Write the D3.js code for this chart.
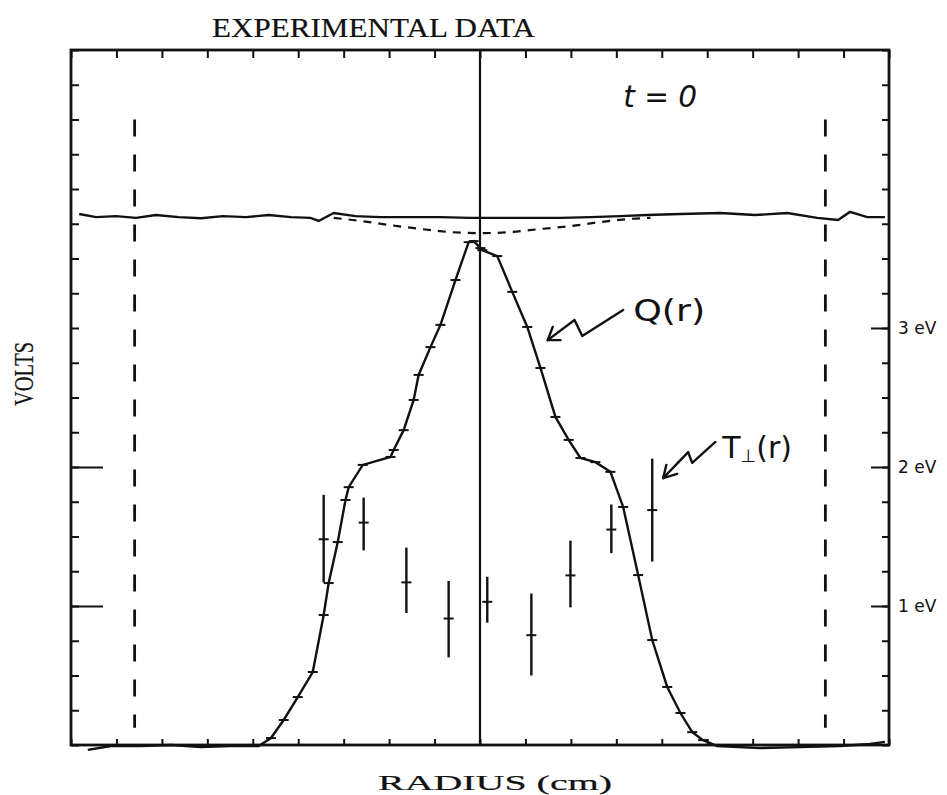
<!DOCTYPE html>
<html>
<head>
<meta charset="utf-8">
<title>Experimental Data</title>
<script src="https://cdn.jsdelivr.net/npm/d3@7"></script>
<style>
  body { margin: 0; background: white; }
  .label { font-family: 'Liberation Serif', serif; fill: #111; stroke: #111; stroke-width: 0.2; }
  .hand { font-family: 'DejaVu Sans', sans-serif; fill: #111; }
  .ticks path { display: none; }
  .ticks line { stroke: #111; stroke-width: 2; }
  .ticks text { display: none; }
  .ev_axis path { display: none; }
  .ev_axis line { stroke: #111; stroke-width: 2; }
  .ev_axis text { font-family: 'DejaVu Sans', sans-serif; font-size: 17px; fill: #111; }
</style>
</head>
<body>
<div id="chart"></div>
<script>
// radius in tick divisions (-9..9), volts in tick divisions (0..20)
var q_radius = [-8.63, -8.12, -7.46, -6.80, -6.14, -5.48, -4.87, -4.60, -4.32, -4.01, -3.68, -3.44, -3.33,
                -3.13, -2.96, -2.89, -2.58, -1.97, -1.90, -1.68, -1.46, -1.35, -1.09, -0.87, -0.54, -0.25,
                -0.14, 0.01, 0.05, 0.38, 0.71, 1.04, 1.33, 1.66, 1.95, 2.21, 2.54, 2.87, 3.15, 3.48, 3.79,
                4.12, 4.41, 4.67, 4.91, 5.22, 6.16, 7.04, 7.92, 8.58, 8.91];
var q_volts = [-0.14, -0.03, -0.03, 0.00, -0.06, -0.03, -0.03, 0.20, 0.72, 1.38, 2.10, 3.74, 4.66,
               5.84, 7.05, 7.42, 8.06, 8.29, 8.49, 9.06, 9.93, 10.65, 11.45, 12.09, 13.38, 14.47,
               14.50, 14.30, 14.24, 14.07, 13.04, 12.03, 10.85, 9.44, 8.78, 8.26, 8.14, 7.86, 6.85, 4.89, 3.02,
               1.67, 0.92, 0.37, 0.14, -0.03, -0.09, -0.06, -0.03, 0.03, 0.09];

var top_radius = [-8.82, -8.45, -8.01, -7.57, -7.13, -6.63, -6.14, -5.66, -5.15, -4.65, -4.16, -3.73, -3.55,
                  -3.22, -2.74, -2.19, -1.53, -0.87, -0.21, 0.45, 1.11, 1.77, 2.43, 3.09, 3.68, 4.41, 5.29,
                  6.05, 6.76, 7.42, 7.88, 8.14, 8.52, 8.91];
var top_volts = [15.28, 15.19, 15.22, 15.17, 15.25, 15.19, 15.16, 15.22, 15.19, 15.25, 15.19, 15.17, 15.08,
                 15.31, 15.22, 15.19, 15.19, 15.19, 15.17, 15.17, 15.17, 15.17, 15.19, 15.22, 15.25, 15.28, 15.31,
                 15.25, 15.31, 15.17, 15.11, 15.34, 15.19, 15.19];

var dip_radius = [-3.22, -2.63, -1.97, -1.31, -0.65, 0.01, 0.67, 1.33, 1.99, 2.65, 3.31, 3.75];
var dip_volts = [15.17, 15.08, 14.96, 14.85, 14.76, 14.73, 14.76, 14.85, 14.93, 15.05, 15.14, 15.17];

// T perpendicular, eV
var t_radius = [-3.44, -2.56, -1.62, -0.69, 0.16, 1.13, 1.99, 2.89, 3.79];
var t_ev = [1.48, 1.60, 1.17, 0.91, 1.03, 0.79, 1.22, 1.55, 1.69];
var t_low = [1.17, 1.40, 0.95, 0.63, 0.88, 0.50, 0.99, 1.38, 1.32];
var t_high = [1.80, 1.78, 1.42, 1.18, 1.21, 1.09, 1.47, 1.73, 2.06];

var wall_radius = [-7.6, 7.6];
var ev_labels = [1, 2, 3];

var q_points = q_radius.map(function(r, i) { return { r: r, v: q_volts[i] }; });
var top_points = top_radius.map(function(r, i) { return { r: r, v: top_volts[i] }; });
var dip_points = dip_radius.map(function(r, i) { return { r: r, v: dip_volts[i] }; });
var t_points = t_radius.map(function(r, i) {
  return { r: r, ev: t_ev[i], lo: t_low[i], hi: t_high[i] };
});

var svg = d3.select("#chart").append("svg")
            .attr("width", 947)
            .attr("height", 795);

var x = d3.scaleLinear().domain([-9, 9]).range([71, 889]);
var y = d3.scaleLinear().domain([0, 20]).range([745, 50]);
var y_ev = d3.scaleLinear().domain([0, 5]).range([745, 50]);

// tick marks
svg.append("g").attr("class", "ticks")
   .attr("transform", "translate(0," + y(20) + ")")
   .call(d3.axisTop(x).tickValues(d3.range(-9, 10)).tickSize(-8));
svg.append("g").attr("class", "ticks")
   .attr("transform", "translate(0," + y(0) + ")")
   .call(d3.axisBottom(x).tickValues(d3.range(-9, 10)).tickSize(-6));
svg.append("g").attr("class", "ticks")
   .attr("transform", "translate(" + x(-9) + ",0)")
   .call(d3.axisLeft(y).tickValues(d3.range(0, 21)).tickSize(-8));
svg.append("g").attr("class", "ticks")
   .attr("transform", "translate(" + x(-9) + ",0)")
   .call(d3.axisLeft(y).tickValues([4, 8]).tickSize(-32));
svg.append("g").attr("class", "ticks")
   .attr("transform", "translate(" + x(9) + ",0)")
   .call(d3.axisRight(y).tickValues(d3.range(0, 21)).tickSize(-7));
svg.append("g").attr("class", "ev_axis")
   .attr("transform", "translate(" + x(9) + ",0)")
   .call(d3.axisRight(y_ev).tickValues(ev_labels).tickSize(-18).tickPadding(9)
           .tickFormat(function(d) { return d + " eV"; }));

// frame
svg.append("rect")
   .attr("x", x(-9)).attr("y", y(20))
   .attr("width", x(9) - x(-9)).attr("height", y(0) - y(20))
   .attr("fill", "none").attr("stroke", "#111").attr("stroke-width", 2.8);

// center line
svg.append("line")
   .attr("x1", x(0)).attr("x2", x(0))
   .attr("y1", y(20)).attr("y2", y(0))
   .attr("stroke", "#111").attr("stroke-width", 2.2);

// wall positions
svg.selectAll(".wall")
   .data(wall_radius)
   .enter().append("line")
   .attr("class", "wall")
   .attr("x1", function(d) { return x(d); })
   .attr("x2", function(d) { return x(d); })
   .attr("y1", y(18)).attr("y2", y(0.5))
   .attr("stroke", "#111").attr("stroke-width", 2.8)
   .attr("stroke-dasharray", "17 18");

var line = d3.line()
             .x(function(d) { return x(d.r); })
             .y(function(d) { return y(d.v); });

svg.append("path").datum(top_points)
   .attr("d", line)
   .attr("fill", "none").attr("stroke", "#111").attr("stroke-width", 2.4);

svg.append("path").datum(dip_points)
   .attr("d", line.curve(d3.curveMonotoneX))
   .attr("fill", "none").attr("stroke", "#111").attr("stroke-width", 2.2)
   .attr("stroke-dasharray", "8 7");

line.curve(d3.curveLinear);
svg.append("path").datum(q_points)
   .attr("d", line)
   .attr("fill", "none").attr("stroke", "#111").attr("stroke-width", 2.4);

// small error dashes along Q(r)
svg.selectAll(".qdash")
   .data(q_points.filter(function(d) { return d.v > 0.1; }))
   .enter().append("line")
   .attr("class", "qdash")
   .attr("x1", function(d) { return x(d.r) - 5; })
   .attr("x2", function(d) { return x(d.r) + 5; })
   .attr("y1", function(d) { return y(d.v); })
   .attr("y2", function(d) { return y(d.v); })
   .attr("stroke", "#111").attr("stroke-width", 2);

// T perp error bars
var tbars = svg.selectAll(".tbar").data(t_points).enter().append("g").attr("class", "tbar");
tbars.append("line")
     .attr("x1", function(d) { return x(d.r); })
     .attr("x2", function(d) { return x(d.r); })
     .attr("y1", function(d) { return y_ev(d.lo); })
     .attr("y2", function(d) { return y_ev(d.hi); })
     .attr("stroke", "#111").attr("stroke-width", 2.4);
tbars.append("line")
     .attr("x1", function(d) { return x(d.r) - 5; })
     .attr("x2", function(d) { return x(d.r) + 5; })
     .attr("y1", function(d) { return y_ev(d.ev); })
     .attr("y2", function(d) { return y_ev(d.ev); })
     .attr("stroke", "#111").attr("stroke-width", 2);

// annotations (data coordinates)
var q_arrow = [[1.49, 11.65], [2.08, 12.23], [2.25, 11.77], [3.15, 12.52]];
var q_head = [[1.60, 12.03], [1.49, 11.65], [1.77, 11.65]];
var t_arrow = [[4.03, 7.68], [4.58, 8.43], [4.67, 8.12], [5.18, 8.72]];
var t_head = [[4.10, 8.06], [4.03, 7.68], [4.34, 7.80]];

var ann = d3.line()
            .x(function(d) { return x(d[0]); })
            .y(function(d) { return y(d[1]); });
[q_arrow, t_arrow, q_head, t_head].forEach(function(pts) {
  svg.append("path").attr("d", ann(pts))
     .attr("fill", "none").attr("stroke", "#111").attr("stroke-width", 2.4)
     .attr("stroke-linejoin", "round").attr("stroke-linecap", "round");
});

svg.append("text").attr("class", "hand")
   .attr("x", x(3.37)).attr("y", y(12.2))
   .attr("font-size", 30).attr("textLength", 72).attr("lengthAdjust", "spacingAndGlyphs")
   .text("Q(r)");

var tl = svg.append("text").attr("class", "hand")
   .attr("x", x(5.33)).attr("y", y(8.26))
   .attr("font-size", 30);
tl.append("tspan").text("T");
tl.append("tspan").attr("font-size", 18).attr("dy", 4).text("⊥");
tl.append("tspan").attr("dy", -4).text("(r)");

svg.append("text").attr("class", "hand")
   .attr("x", x(3.15)).attr("y", y(18.36))
   .attr("font-size", 30).attr("font-style", "italic")
   .attr("textLength", 74).attr("lengthAdjust", "spacingAndGlyphs")
   .text("t = 0");

// titles
svg.append("text").attr("class", "label")
   .attr("x", 212).attr("y", 37)
   .attr("font-size", 28).attr("textLength", 323).attr("lengthAdjust", "spacingAndGlyphs")
   .text("EXPERIMENTAL DATA");

svg.append("text").attr("class", "label")
   .attr("x", 378).attr("y", 790)
   .attr("font-size", 22).attr("textLength", 234).attr("lengthAdjust", "spacingAndGlyphs")
   .text("RADIUS (cm)");

svg.append("text").attr("class", "label")
   .attr("transform", "translate(33,406) rotate(-90)")
   .attr("font-size", 28).attr("textLength", 64).attr("lengthAdjust", "spacingAndGlyphs")
   .text("VOLTS");
</script>
</body>
</html>
